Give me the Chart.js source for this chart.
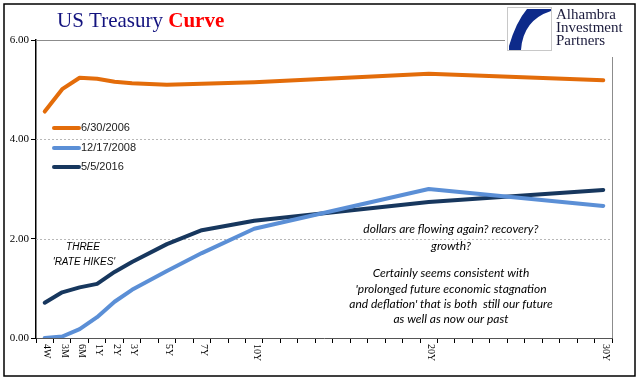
<!DOCTYPE html>
<html>
<head>
<meta charset="utf-8">
<script src="https://cdn.jsdelivr.net/npm/chart.js@4.4.1/dist/chart.umd.min.js"></script>
<style>
  html, body { margin: 0; padding: 0; background: #fff; }
  canvas { display: block; }
</style>
</head>
<body>
<canvas id="myChart" width="641" height="381"></canvas>
<script>
// every slot on the maturity axis (Excel category axis with blank years)
const categories = ['4W', '3M', '6M', '1Y', '2Y', '3Y', '4Y', '5Y', '6Y', '7Y', '8Y', '9Y', '10Y',
    '11Y', '12Y', '13Y', '14Y', '15Y', '16Y', '17Y', '18Y', '19Y', '20Y',
    '21Y', '22Y', '23Y', '24Y', '25Y', '26Y', '27Y', '28Y', '29Y', '30Y'];
// maturities actually quoted / labelled
const maturities = ['4W', '3M', '6M', '1Y', '2Y', '3Y', '5Y', '7Y', '10Y', '20Y', '30Y'];

const curve2006 = [4.56, 5.01, 5.24, 5.22, 5.16, 5.13, 5.10, 5.12, 5.15, 5.32, 5.19];
const curve2008 = [0.00, 0.03, 0.18, 0.42, 0.73, 0.97, 1.35, 1.71, 2.20, 3.00, 2.66];
const curve2016 = [0.71, 0.92, 1.02, 1.09, 1.33, 1.53, 1.89, 2.17, 2.36, 2.74, 2.98];

const yTicks = [0, 2, 4, 6];

const spread = (vals) => categories.map(c => {
    const i = maturities.indexOf(c);
    return i < 0 ? null : vals[i];
});

const decor = {
    id: 'decor',
    beforeDraw(chart) {
        const c = chart.ctx;
        c.save();
        c.fillStyle = '#fff';
        c.fillRect(0, 0, chart.width, chart.height);
        c.restore();
    },
    beforeDatasetsDraw(chart) {
        const c = chart.ctx, a = chart.chartArea, y = chart.scales.y;
        c.save();
        yTicks.forEach(v => {
            const py = Math.round(y.getPixelForValue(v)) + 0.5;
            if (v === 0) return;
            if (v === 6) {
                c.strokeStyle = '#8c8c8c';
                c.setLineDash([]);
            } else {
                c.strokeStyle = '#b8b8b8';
                c.setLineDash([2, 2]);
            }
            c.lineWidth = 1;
            c.beginPath();
            c.moveTo(a.left, py);
            c.lineTo(a.right, py);
            c.stroke();
        });
        c.setLineDash([]);
        c.strokeStyle = '#8c8c8c';
        c.beginPath();
        c.moveTo(a.right + 0.5, a.top);
        c.lineTo(a.right + 0.5, a.bottom);
        c.stroke();
        c.restore();
    },
    afterDraw(chart) {
        const c = chart.ctx, a = chart.chartArea, x = chart.scales.x;
        c.save();

        // x labels, rotated to read top-to-bottom
        c.fillStyle = '#000';
        c.font = '10px "Liberation Serif"';
        c.textAlign = 'left';
        c.textBaseline = 'middle';
        maturities.forEach(m => {
            const px = x.getPixelForValue(categories.indexOf(m));
            c.save();
            c.translate(px + 2, a.bottom + 6);
            c.rotate(Math.PI / 2);
            c.fillText(m, 0, 0);
            c.restore();
        });

        // title
        c.textBaseline = 'alphabetic';
        c.font = '21px "Liberation Serif"';
        c.fillStyle = '#13137f';
        c.fillText('US Treasury ', 57, 27);
        const w = c.measureText('US Treasury ').width;
        c.font = 'bold 21px "Liberation Serif"';
        c.fillStyle = '#ff0000';
        c.fillText('Curve', 57 + w, 27);

        // logo
        c.fillStyle = '#fff';
        c.fillRect(505, 6, 128, 51);
        c.strokeStyle = '#c8c8c8';
        c.lineWidth = 1;
        c.strokeRect(507.5, 7.5, 44, 43);
        c.fillStyle = '#0d2a8a';
        c.beginPath();
        c.moveTo(527, 9);
        c.lineTo(551, 9);
        c.lineTo(551, 11);
        c.quadraticCurveTo(523, 20, 521, 50);
        c.lineTo(509, 50);
        c.lineTo(509, 46);
        c.quadraticCurveTo(516, 22, 527, 9);
        c.fill();
        c.fillStyle = '#1b1b3c';
        c.font = '15px "Liberation Serif"';
        c.textBaseline = 'middle';
        c.fillText('Alhambra', 556, 15);
        c.fillText('Investment', 556, 28);
        c.fillText('Partners', 556, 41);

        // legend inside plot
        c.font = '11px "Liberation Sans"';
        const legY = [128, 148, 167];
        chart.data.datasets.forEach((ds, i) => {
            c.strokeStyle = ds.borderColor;
            c.lineWidth = 4;
            c.lineCap = 'round';
            c.beginPath();
            c.moveTo(54, legY[i]);
            c.lineTo(79, legY[i]);
            c.stroke();
            c.fillStyle = '#1a1a1a';
            c.fillText(ds.label, 81, legY[i]);
        });

        // notes
        c.textAlign = 'center';
        c.fillStyle = '#000';
        c.font = 'italic 10px "Liberation Sans"';
        c.fillText('THREE', 83, 247);
        c.fillText("'RATE HIKES'", 84, 262);

        c.font = 'italic 12px Lato';
        const note = ['dollars are flowing again? recovery?', 'growth?', '',
            'Certainly seems consistent with', "'prolonged future economic stagnation",
            "and deflation' that is both  still our future", 'as well as now our past'];
        const noteY = [229, 246, 0, 273, 289, 304, 319];
        note.forEach((t, i) => { if (t) c.fillText(t, 451, noteY[i]); });

        // outer frame
        c.strokeStyle = '#000';
        c.lineWidth = 1.5;
        c.strokeRect(4, 4, 631, 372);
        c.restore();
    }
};

const grafico = () => {
    const ctx = document.getElementById('myChart').getContext('2d');
    new Chart(ctx, {
        type: 'line',
        data: {
            labels: categories,
            datasets: [{
                label: '6/30/2006',
                data: spread(curve2006),
                borderColor: '#e36c0a'
            }, {
                label: '12/17/2008',
                data: spread(curve2008),
                borderColor: '#5b8fd6'
            }, {
                label: '5/5/2016',
                data: spread(curve2016),
                borderColor: '#17375e'
            }]
        },
        options: {
            responsive: false,
            animation: false,
            spanGaps: true,
            elements: {
                line: { borderWidth: 4, tension: 0, borderCapStyle: 'round', borderJoinStyle: 'round' },
                point: { radius: 0 }
            },
            layout: { padding: { top: 40, right: 29, left: 0, bottom: 0 } },
            plugins: {
                legend: { display: false },
                tooltip: { enabled: false }
            },
            scales: {
                x: {
                    type: 'category',
                    offset: true,
                    grid: { offset: true, drawOnChartArea: false, tickLength: 5, color: '#000' },
                    border: { color: '#555', width: 1 },
                    ticks: { display: false, autoSkip: false },
                    afterFit: (s) => { s.height = 43; }
                },
                y: {
                    min: 0,
                    max: 6,
                    afterBuildTicks: (s) => { s.ticks = yTicks.map(v => ({ value: v })); },
                    grid: { drawOnChartArea: false, tickLength: 5, color: '#000' },
                    border: { color: '#000', width: 1.5 },
                    ticks: {
                        padding: 2,
                        color: '#000',
                        font: { family: 'Liberation Serif', size: 11 },
                        callback: (v) => v.toFixed(2)
                    },
                    afterFit: (s) => { s.width = 36; }
                }
            }
        },
        plugins: [decor]
    });
};

grafico();
</script>
</body>
</html>
